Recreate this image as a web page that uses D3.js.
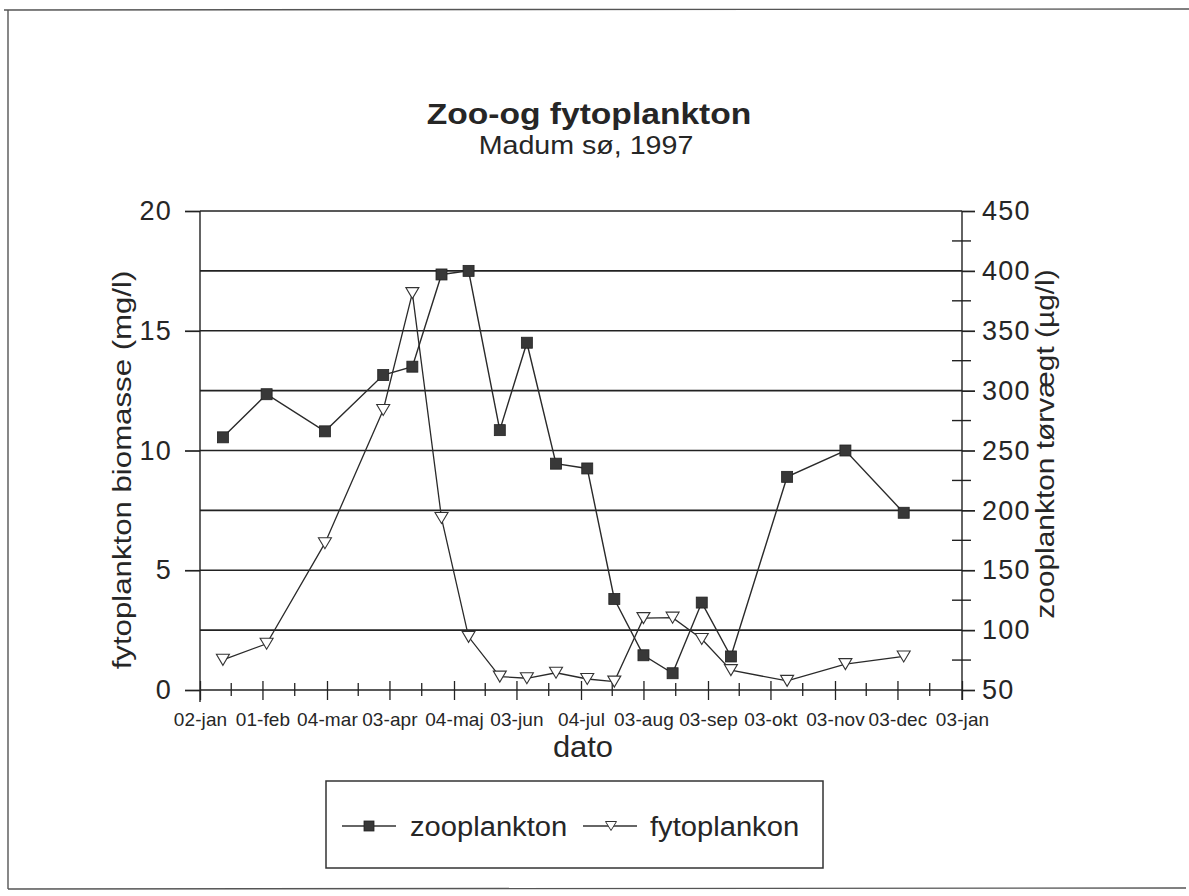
<!DOCTYPE html>
<html><head><meta charset="utf-8">
<script src="https://cdn.jsdelivr.net/npm/d3@7"></script>
<style>
html,body{margin:0;padding:0;background:#fff;}
svg{display:block;}
text{font-family:"Liberation Sans",Arial,Helvetica,sans-serif;fill:#262626;}
</style></head><body>
<svg id="c" width="1189" height="896"></svg>
<script>
// ---------- data ----------
const sampleDates = ["1997-01-13","1997-02-03","1997-03-03","1997-03-31","1997-04-14","1997-04-28",
  "1997-05-11","1997-05-26","1997-06-08","1997-06-22","1997-07-07","1997-07-20","1997-08-03",
  "1997-08-17","1997-08-31","1997-09-14","1997-10-11","1997-11-08","1997-12-06"];
const zooplankton = [261, 297, 266, 313, 320, 397, 400, 267, 340, 239, 235, 126, 79, 64, 123, 78, 228, 250, 198];
const fytoplankton = [1.26, 1.93, 6.13, 11.69, 16.57, 7.18, 2.22, 0.56, 0.49, 0.72, 0.46, 0.35, 3.0, 3.02, 2.13, 0.83, 0.38, 1.08, 1.40];
const xTickDates = ["1997-01-02","1997-02-01","1997-03-04","1997-04-03","1997-05-04","1997-06-03",
  "1997-07-04","1997-08-03","1997-09-03","1997-10-03","1997-11-03","1997-12-03","1998-01-03"];
const xTickLabels = ["02-jan","01-feb","04-mar","03-apr","04-maj","03-jun","04-jul","03-aug",
  "03-sep","03-okt","03-nov","03-dec","03-jan"];
const leftTicks = [0, 5, 10, 15, 20];
const leftGrid = [0, 2.5, 5, 7.5, 10, 12.5, 15, 17.5, 20];
const rightTicks = [50, 100, 150, 200, 250, 300, 350, 400, 450];
const rightMinor = [75, 125, 175, 225, 275, 325, 375, 425];
const titleText = "Zoo-og fytoplankton";
const subtitleText = "Madum sø, 1997";
const xTitle = "dato";
const yLeftTitle = "fytoplankton biomasse (mg/l)";
const yRightTitle = "zooplankton tørvægt (µg/l)";
const seriesNames = ["zooplankton", "fytoplankon"];

// ---------- layout ----------
const X0 = 200, X1 = 962, YT = 211, YB = 690;
const parse = d3.utcParse("%Y-%m-%d");
const x = d3.scaleUtc().domain([parse("1997-01-02"), parse("1998-01-03")]).range([X0, X1]);
const yL = d3.scaleLinear().domain([0, 20]).range([YB, YT]);
const yR = d3.scaleLinear().domain([50, 450]).range([YB, YT]);
const INK = "#222";
const FONT = '"Liberation Sans",Arial,sans-serif';

const svg = d3.select("#c");
svg.append("rect").attr("width", 1189).attr("height", 896).attr("fill", "#fff");

// page frame (top, left, bottom)
const frame = svg.append("g").attr("stroke", "#555").attr("stroke-width", 1.4).attr("fill", "none");
frame.append("line").attr("x1", 4).attr("x2", 1189).attr("y1", 10).attr("y2", 9);
frame.append("line").attr("x1", 8).attr("x2", 8).attr("y1", 10).attr("y2", 889);
frame.append("line").attr("x1", 8).attr("x2", 1186).attr("y1", 889).attr("y2", 888);

function label(x0, y0, str, size, o = {}) {
  const t = svg.append("text")
    .attr("transform", `translate(${x0},${y0}) rotate(${o.rot || 0}) scale(${o.sx || 1},1)`)
    .attr("text-anchor", o.anchor || "middle")
    .attr("font-size", size)
    .text(str);
  if (o.bold) t.attr("font-weight", "bold");
  return t;
}

// gridlines
svg.append("g").selectAll("line").data(leftGrid).join("line")
  .attr("x1", X0).attr("x2", X1)
  .attr("y1", d => yL(d)).attr("y2", d => yL(d))
  .attr("stroke", INK).attr("stroke-width", 1.7);

// left axis
const gL = svg.append("g").attr("transform", `translate(${X0},0)`)
  .call(d3.axisLeft(yL).tickValues(leftTicks).tickSize(15).tickPadding(13).tickFormat(d3.format("d")));
gL.select(".domain").remove();
gL.selectAll("line").attr("stroke", INK).attr("stroke-width", 1.7);
gL.selectAll("text").attr("font-size", 27).attr("fill", "#262626")
  .attr("font-family", FONT).attr("letter-spacing", 1.2);
svg.append("line").attr("x1", X0).attr("x2", X0).attr("y1", YT).attr("y2", YB + 12)
  .attr("stroke", INK).attr("stroke-width", 1.4);

// right axis
const gR = svg.append("g").attr("transform", `translate(${X1},0)`)
  .call(d3.axisRight(yR).tickValues(rightTicks).tickSize(13).tickPadding(7).tickFormat(d3.format("d")));
gR.select(".domain").remove();
gR.selectAll("line").attr("stroke", INK).attr("stroke-width", 1.7);
gR.selectAll("text").attr("font-size", 27).attr("fill", "#262626")
  .attr("font-family", FONT).attr("letter-spacing", 1.2);
svg.append("g").selectAll("line").data(rightMinor).join("line")
  .attr("x1", X1 - 10).attr("x2", X1 + 9)
  .attr("y1", d => yR(d)).attr("y2", d => yR(d))
  .attr("stroke", INK).attr("stroke-width", 1.4);
svg.append("line").attr("x1", X1).attr("x2", X1).attr("y1", YT).attr("y2", YB + 10)
  .attr("stroke", INK).attr("stroke-width", 1.4);

// x axis
const tickDates = xTickDates.map(parse);
const gX = svg.append("g").attr("transform", `translate(0,${YB})`)
  .call(d3.axisBottom(x).tickValues(tickDates).tickSize(10).tickPadding(13)
    .tickFormat((d, i) => xTickLabels[i]));
gX.select(".domain").remove();
gX.selectAll("line").attr("y1", -9).attr("y2", 10).attr("stroke", INK).attr("stroke-width", 1.3);
gX.selectAll("text").attr("font-size", 19).attr("fill", "#262626")
  .attr("font-family", FONT).attr("letter-spacing", 0.1);
const minorDates = d3.pairs(tickDates).map(([a, b]) => new Date((+a + +b) / 2));
svg.append("g").selectAll("line").data(minorDates).join("line")
  .attr("x1", d => x(d)).attr("x2", d => x(d))
  .attr("y1", YB - 7).attr("y2", YB + 6)
  .attr("stroke", INK).attr("stroke-width", 1.3);

// titles
label(589, 124, titleText, 30, { bold: true, sx: 1.12 });
label(586, 154, subtitleText, 26, { sx: 1.1 });
label(583, 757, xTitle, 30, { sx: 1.03 });
label(131, 470, yLeftTitle, 26, { rot: -90, sx: 1.2 });
label(1054, 444, yRightTitle, 26, { rot: -90, sx: 1.15 });

// series
const pts = sampleDates.map((d, i) => ({ date: parse(d), zoo: zooplankton[i], fyto: fytoplankton[i] }));
const lineZ = d3.line().x(d => x(d.date)).y(d => yR(d.zoo));
const lineF = d3.line().x(d => x(d.date)).y(d => yL(d.fyto));
svg.append("path").datum(pts).attr("d", lineZ).attr("fill", "none").attr("stroke", "#2a2a2a").attr("stroke-width", 1.4);
svg.append("path").datum(pts).attr("d", lineF).attr("fill", "none").attr("stroke", "#2a2a2a").attr("stroke-width", 1.3);

const tri = (cx, cy, w, h) => `M${cx - w / 2},${cy - h / 2}L${cx + w / 2},${cy - h / 2}L${cx},${cy + h / 2}Z`;
svg.append("g").selectAll("path").data(pts).join("path")
  .attr("d", d => tri(x(d.date), yL(d.fyto), 13, 11))
  .attr("fill", "#fff").attr("stroke", "#333").attr("stroke-width", 1.1);
svg.append("g").selectAll("rect").data(pts).join("rect")
  .attr("x", d => x(d.date) - 5.5).attr("y", d => yR(d.zoo) - 5.5)
  .attr("width", 11).attr("height", 11)
  .attr("fill", "#383838").attr("stroke", "#222").attr("stroke-width", 0.8);

// legend
const lg = svg.append("g");
lg.append("rect").attr("x", 326).attr("y", 781).attr("width", 497).attr("height", 87)
  .attr("fill", "#fff").attr("stroke", "#333").attr("stroke-width", 1.5);
lg.append("line").attr("x1", 342).attr("x2", 396).attr("y1", 826).attr("y2", 826).attr("stroke", "#333").attr("stroke-width", 1.4);
lg.append("rect").attr("x", 364).attr("y", 821).attr("width", 10).attr("height", 10)
  .attr("fill", "#383838").attr("stroke", "#222").attr("stroke-width", 0.8);
label(410, 836, seriesNames[0], 27, { anchor: "start", sx: 1.08 });
lg.append("line").attr("x1", 583).attr("x2", 637).attr("y1", 826).attr("y2", 826).attr("stroke", "#333").attr("stroke-width", 1.3);
lg.append("path").attr("d", tri(611, 826, 11, 9)).attr("fill", "#fff").attr("stroke", "#333").attr("stroke-width", 1);
label(650, 836, seriesNames[1], 27, { anchor: "start", sx: 1.08 });
</script>
</body></html>
